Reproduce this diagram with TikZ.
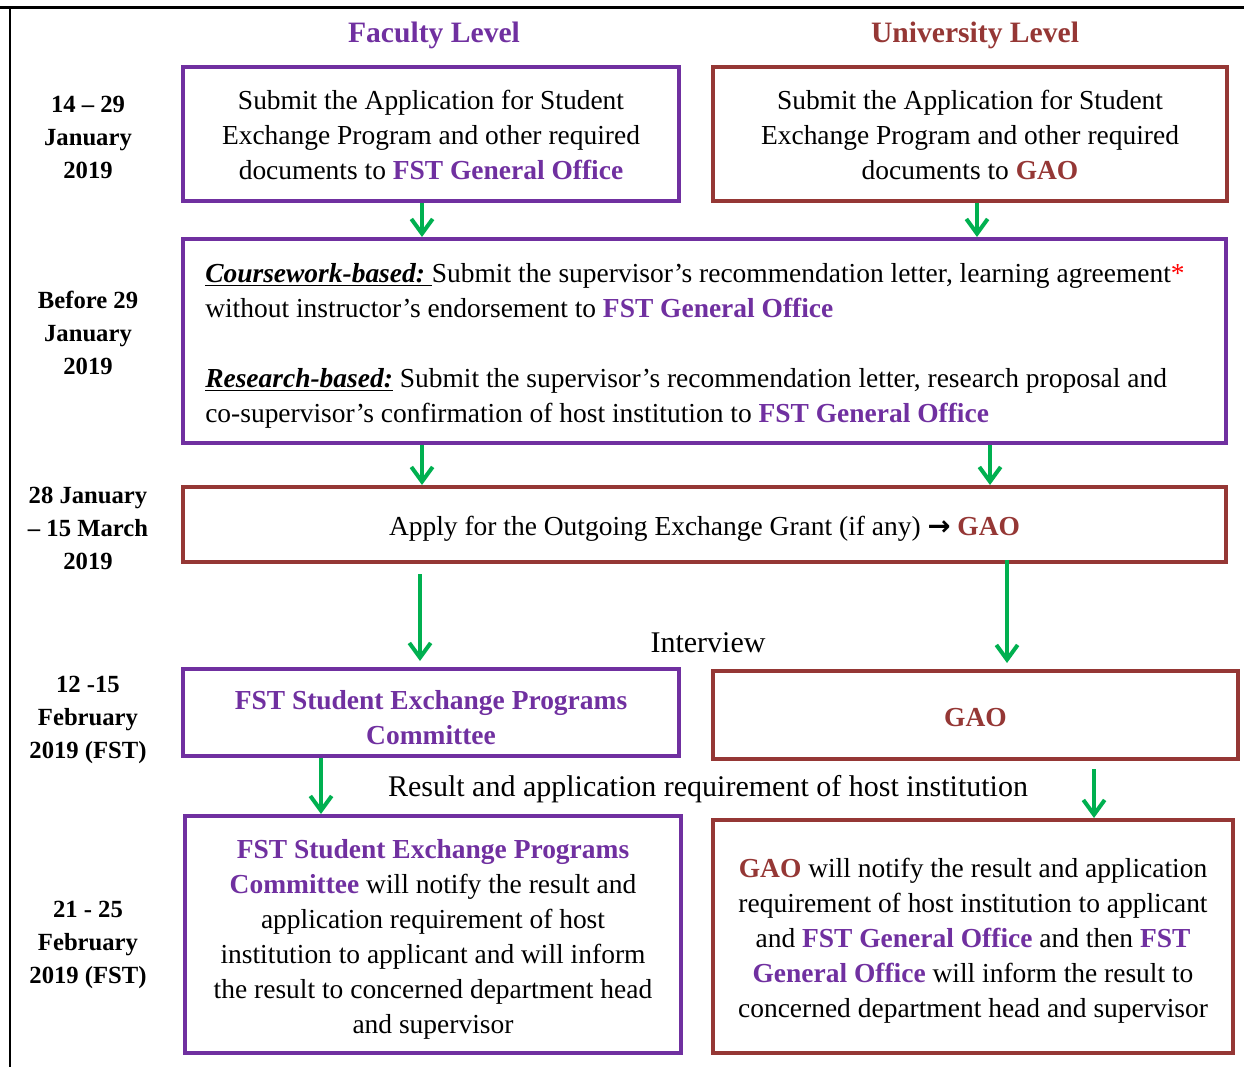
\documentclass[tikz,border=0pt]{standalone}
\usepackage{fontspec}
\setmainfont{Liberation Serif}
\newfontfamily\arrowFont{DejaVu Sans}
\usepackage{xcolor}
\usepackage{tikz}
\usetikzlibrary{arrows.meta}
\usetikzlibrary{calc}
\definecolor{faclvl}{HTML}{7030A0}
\definecolor{unilvl}{HTML}{953735}
\definecolor{flowgrn}{HTML}{00B050}
\newcommand{\fstOffice}{\textbf{\color{faclvl}FST General Office}}
\newcommand{\gaoName}{\textbf{\color{unilvl}GAO}}
\newcommand{\bodyFont}{\fontsize{20.6}{26.25}\selectfont}

\begin{document}
\begin{tikzpicture}[
  x=0.75pt, y=-0.75pt,
  dep/.style={
    -{Straight Barb[length=11pt,width=16pt]},
    line width=3pt,
    draw=flowgrn
  },
  stage/.style 2 args={
    rectangle,
    draw=#1,
    line width=3pt,
    minimum width=#2},
  txt/.style={
    align=center,
    font=\bodyFont},
  datelbl/.style={
    align=center,
    font=\fontsize{18.5}{24.75}\selectfont\bfseries},
  level/.style={
    font=\fontsize{22.2}{26}\selectfont\bfseries,
    text=#1},
  note/.style={font=\fontsize{22.5}{26}\selectfont},
]

  \useasboundingbox (0,0) rectangle (1244,1067);

  % page rules
  \draw[line width=2.25pt] (0,7) -- (1244,7);
  \draw[line width=0.9pt] (10,7) -- (10,1067);

  % Level headings
  \node[level=faclvl] (faclevel) at (434,35) {Faculty Level};
  \node[level=unilvl] (unilevel) at (975,35) {University Level};

  % Dates
  \node[datelbl] (d1) at (88,137) {14 -- 29\\January\\2019};
  \node[datelbl] (d2) at (88,333) {Before 29\\January\\2019};
  \node[datelbl] (d3) at (88,528) {28 January\\-- 15 March\\2019};
  \node[datelbl] (d4) at (88,720) {12 -15\\February\\2019 (FST)};
  \node[datelbl] (d5) at (88,944.5) {21 - 25\\February\\2019 (FST)};

  % Step 1
  \node[stage={faclvl}{372pt}, minimum height=100.5pt] (fac1) at (431,134) {};
  \node[txt] (fac1txt) at (431,135)
    {Submit the Application for Student\\Exchange Program and other required\\documents to \fstOffice};
  \node[stage={unilvl}{385.5pt}, minimum height=100.5pt] (uni1) at (970,134) {};
  \node[txt] (uni1txt) at (970,135)
    {Submit the Application for Student\\Exchange Program and other required\\documents to \gaoName};

  % Step 2
  \node[stage={faclvl}{782.25pt}, minimum height=153pt] (both) at (704.5,341) {};
  \node[txt, align=left, anchor=west, inner xsep=0pt] (bothtxt) at (205,346)
    {\underline{\textbf{\textit{Coursework-based:}}\ }Submit the supervisor's recommendation letter, learning agreement{\color{red}*}\\
     without instructor's endorsement to \fstOffice\\[26.25pt]
     \underline{\textbf{\textit{Research-based:}}} Submit the supervisor's recommendation letter, research proposal and\\
     co-supervisor's confirmation of host institution to \fstOffice};

  % Step 3
  \node[stage={unilvl}{782.25pt}, minimum height=56.25pt] (grant) at (704.5,524.5) {};
  \node[txt] (granttxt) at (704.5,528.5)
    {Apply for the Outgoing Exchange Grant (if any) {\arrowFont\bfseries →} \gaoName};

  % Step 4
  \node[stage={faclvl}{372pt}, minimum height=65.25pt] (fac3) at (431,712.5) {};
  \node[txt] (fac3txt) at (431,717.5)
    {\textbf{\color{faclvl}FST Student Exchange Programs}\\\textbf{\color{faclvl}Committee}};
  \node[stage={unilvl}{393.75pt}, minimum height=66pt] (uni3) at (975.5,715) {};
  \node[txt] (uni3txt) at (975.5,718) {\gaoName};
  \node[note] (interview) at (708,643) {Interview};

  % Step 5
  \node[note] (result) at (708,789) {Result and application requirement of host institution};
  \node[stage={faclvl}{372pt}, minimum height=177.75pt] (fac4) at (433,934.5) {};
  \node[txt] (fac4txt) at (433,939.5)
    {\textbf{\color{faclvl}FST Student Exchange Programs}\\
     \textbf{\color{faclvl}Committee} will notify the result and\\
     application requirement of host\\
     institution to applicant and will inform\\
     the result to concerned department head\\
     and supervisor};
  \node[stage={unilvl}{390pt}, minimum height=174.75pt] (uni4) at (973,936.5) {};
  \node[txt] (uni4txt) at (973,940.5)
    {\gaoName{} will notify the result and application\\
     requirement of host institution to applicant\\
     and \fstOffice{} and then \textbf{\color{faclvl}FST}\\
     \textbf{\color{faclvl}General Office} will inform the result to\\
     concerned department head and supervisor};

  % Flow arrows
  \foreach \from/\to/\xx in {fac1/both/422, uni1/both/977, both/grant/422, both/grant/990} {
    \draw[dep] (\from.south -| \xx,0) -- (\to.north -| \xx,0);
  }
  \draw[dep, shorten <=7.5pt, shorten >=4.5pt] (grant.south -| 420,0) -- (fac3.north -| 420,0);
  \draw[dep, shorten <=-3pt, shorten >=4.5pt] (grant.south -| 1007,0) -- (uni3.north -| 1007,0);
  \draw[dep] (fac3.south -| 321,0) -- (fac4.north -| 321,0);
  \draw[dep, shorten <=6pt] (uni3.south -| 1094,0) -- (uni4.north -| 1094,0);

\end{tikzpicture}
\end{document}
